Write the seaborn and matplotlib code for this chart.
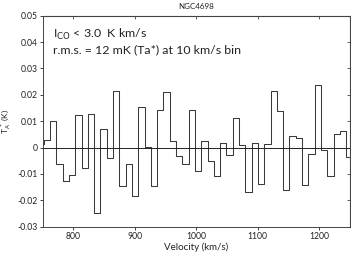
import matplotlib
matplotlib.use("Agg")
import matplotlib.pyplot as plt
import seaborn as sns
import pandas as pd

title = "NGC4698"
velocity = [746.6, 756.8, 767.1, 777.3, 787.6, 797.8, 808.1, 818.3, 828.6, 838.8,
            849.1, 859.3, 869.6, 879.8, 890.1, 900.3, 910.6, 920.8, 931.1, 941.3,
            951.6, 961.8, 972.1, 982.3, 992.6, 1002.8, 1013.1, 1023.3, 1033.6, 1043.8,
            1054.1, 1064.3, 1074.6, 1084.8, 1095.1, 1105.3, 1115.6, 1125.8, 1136.1, 1146.3,
            1156.6, 1166.8, 1177.1, 1187.3, 1197.6, 1207.8, 1218.1, 1228.3, 1238.6, 1248.8]
ta = [0.0012, 0.0028, 0.0101, -0.0061, -0.0128, -0.0103, 0.0122, -0.0077, 0.0129, -0.0247,
      0.0072, -0.0038, 0.0215, -0.0144, -0.0061, -0.0184, 0.0152, 0.0003, -0.0147, 0.0142,
      0.0209, 0.0024, -0.0032, -0.0063, 0.0144, -0.0090, 0.0024, -0.0052, -0.0109, 0.0019,
      -0.0029, 0.0114, 0.0011, -0.0170, 0.0019, -0.0139, 0.0013, 0.0213, 0.0138, -0.0161,
      0.0044, 0.0038, -0.0141, -0.0025, 0.0237, -0.0010, -0.0109, 0.0053, 0.0062, -0.0034]
x_ticks = [800, 900, 1000, 1100, 1200]
y_ticks = [-0.03, -0.02, -0.01, 0, 0.01, 0.02, 0.03, 0.04, 0.05]
y_ticklabels = ["-0.03", "-0.02", "-0.01", "0", "0.01", "0.02", "0.03", "0.04", "0.05"]

sns.set_style("white")
plt.rcParams['font.family'] = ['Lato', 'DejaVu Sans']

df = pd.DataFrame({"v": velocity, "t": ta})

fig = plt.figure(figsize=(3.51, 2.75), dpi=100)
ax = fig.add_axes([0.1217, 0.1755, 0.8755, 0.7675])

sns.lineplot(data=df, x="v", y="t", drawstyle="steps-mid", estimator=None,
             color="#3a3a3a", linewidth=0.75, ax=ax)
ax.axhline(0, color="#222222", linewidth=0.7)

ax.set_xlim(750, 1250)
ax.set_ylim(-0.03, 0.05)
ax.set_xticks(x_ticks)
ax.set_xticklabels([str(t) for t in x_ticks])
ax.set_yticks(y_ticks)
ax.set_yticklabels(y_ticklabels)
ax.tick_params(axis="both", direction="out", length=2, width=0.6, pad=1.5,
               labelsize=6.2, colors="#222222", left=True, bottom=True)
for s in ax.spines.values():
    s.set_color("#444444")
    s.set_linewidth(0.7)

top = ax.secondary_xaxis("top")
top.set_xticks(x_ticks)
top.tick_params(direction="in", length=2, width=0.6, labeltop=False, colors="#444444")
right = ax.secondary_yaxis("right")
right.set_yticks(y_ticks)
right.tick_params(direction="in", length=2, width=0.6, labelright=False, colors="#444444")

ax.set_xlabel("Velocity (km/s)", fontsize=7, labelpad=1, color="#222222")
ax.set_ylabel(r"T$_{\rm A}^{\,*}$ (K)", fontsize=6, labelpad=3, color="#222222")
ax.set_title(title, fontsize=5.8, pad=5, color="#222222")

ax.text(0.035, 0.913, r"I$_{\rm CO}$ < 3.0  K km/s", transform=ax.transAxes,
        fontsize=8.9, color="#222222", va="center", ha="left")
ax.text(0.035, 0.837, "r.m.s. = 12 mK (Ta*) at 10 km/s bin", transform=ax.transAxes,
        fontsize=8.9, color="#222222", va="center", ha="left")

fig.savefig("out.png", dpi=100)
